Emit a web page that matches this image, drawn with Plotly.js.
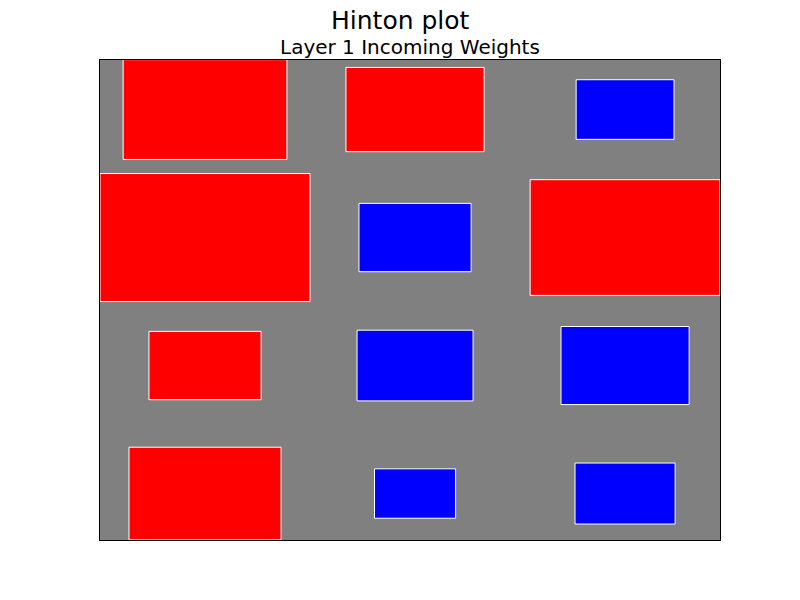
<!DOCTYPE html>
<html>
<head>
<meta charset="utf-8">
<script src="https://cdn.plot.ly/plotly-3.0.1.min.js"></script>
<style>html,body{margin:0;padding:0;background:#fff;}#chart{width:800px;height:600px;}</style>
</head>
<body>
<div id="chart"></div>
<script>
// Weight matrix, rows listed top to bottom, columns left to right
const rowLabels = ["row1", "row2", "row3", "row4"];
const colLabels = ["col1", "col2", "col3"];
const row1 = [0.608, 0.433, -0.217];
const row2 = [1.05, -0.285, 0.817];
const row3 = [0.285, -0.305, -0.372];
const row4 = [0.524, -0.149, -0.227];
const weights = [row1, row2, row3, row4];
const maxWeight = 1;

const traces = [];
const nRows = weights.length;
weights.forEach((row, r) => {
  row.forEach((w, c) => {
    const cx = c + 0.5;
    const cy = nRows - r - 0.5;
    const hs = Math.sqrt(Math.min(1, Math.abs(w) / maxWeight)) / 2;
    traces.push({
      type: "scatter",
      mode: "lines",
      x: [cx - hs, cx + hs, cx + hs, cx - hs, cx - hs],
      y: [cy - hs, cy - hs, cy + hs, cy + hs, cy - hs],
      fill: "toself",
      fillcolor: w > 0 ? "#ff0000" : "#0000ff",
      line: { color: "#ffffff", width: 1 },
      hoverinfo: "skip",
      showlegend: false
    });
  });
});

const layout = {
  width: 800, height: 600,
  margin: { l: 100, r: 80, t: 60, b: 60 },
  paper_bgcolor: "#ffffff",
  plot_bgcolor: "#808080",
  font: { family: "DejaVu Sans, sans-serif", color: "#000" },
  xaxis: { range: [0, 2.952], showgrid: false, zeroline: false, showticklabels: false, ticks: "",
           showline: true, mirror: true, linecolor: "#000", linewidth: 1 },
  yaxis: { range: [0.137, 3.887], showgrid: false, zeroline: false, showticklabels: false, ticks: "",
           showline: true, mirror: true, linecolor: "#000", linewidth: 1 },
  annotations: [
    { text: "Hinton plot", xref: "paper", yref: "paper", x: (400 - 100) / 620, y: 1 + (60 - 21) / 480,
      xanchor: "center", yanchor: "middle", showarrow: false, borderpad: 0, font: { size: 25, color: "#000" } },
    { text: "Layer 1 Incoming Weights", xref: "paper", yref: "paper", x: 0.5, y: 1 + (60 - 47.5) / 480,
      xanchor: "center", yanchor: "middle", showarrow: false, borderpad: 0, font: { size: 20, color: "#000" } }
  ]
};

Plotly.newPlot("chart", traces, layout, { displayModeBar: false, staticPlot: true });
</script>
</body>
</html>
